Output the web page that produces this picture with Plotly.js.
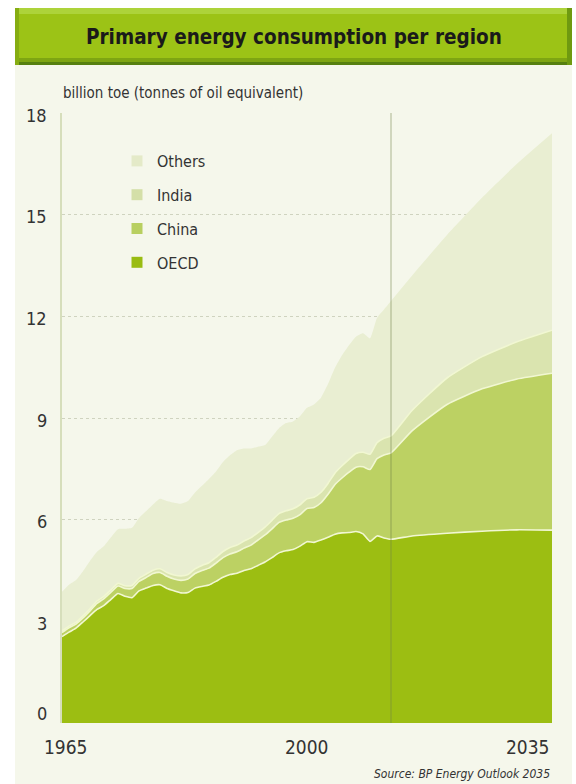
<!DOCTYPE html>
<html><head><meta charset="utf-8">
<script src="https://cdn.plot.ly/plotly-3.0.1.min.js"></script>
<style>html,body{margin:0;padding:0;background:#fff;} #chart{width:576px;height:784px;}</style>
</head><body><div id="chart"></div>
<script>
// ---- data (billion toe) ----
const years = [1965,1966,1967,1968,1969,1970,1971,1972,1973,1974,1975,1976,1977,1978,1979,
  1980,1981,1982,1983,1984,1985,1986,1987,1988,1989,1990,1991,1992,1993,1994,1995,1996,1997,
  1998,1999,2000,2001,2002,2003,2004,2005,2006,2007,2008,2009,2010,2011,2012,
  2015,2020,2025,2030,2035];
const oecd = [2.55,2.68,2.80,2.98,3.17,3.35,3.47,3.65,3.82,3.74,3.70,3.90,3.98,4.06,4.08,
  3.97,3.90,3.84,3.85,3.98,4.03,4.07,4.18,4.30,4.38,4.42,4.50,4.55,4.65,4.75,4.88,5.02,5.08,
  5.12,5.22,5.35,5.33,5.40,5.48,5.57,5.61,5.62,5.65,5.58,5.36,5.52,5.46,5.42,
  5.52,5.60,5.66,5.70,5.69];
const china = [0.12,0.13,0.12,0.12,0.14,0.18,0.20,0.21,0.22,0.23,0.27,0.28,0.31,0.35,0.36,
  0.36,0.35,0.37,0.40,0.43,0.47,0.50,0.54,0.58,0.61,0.63,0.66,0.70,0.75,0.80,0.85,0.90,0.91,
  0.92,0.93,0.98,1.03,1.10,1.27,1.47,1.62,1.78,1.90,1.98,2.12,2.28,2.45,2.55,
  3.10,3.80,4.20,4.45,4.63];
const india = [0.05,0.05,0.05,0.06,0.06,0.07,0.07,0.07,0.08,0.08,0.09,0.09,0.10,0.10,0.11,
  0.11,0.12,0.13,0.13,0.14,0.15,0.16,0.17,0.18,0.19,0.20,0.21,0.22,0.22,0.23,0.25,0.26,0.27,
  0.28,0.29,0.29,0.30,0.31,0.32,0.34,0.36,0.38,0.40,0.43,0.45,0.47,0.49,0.50,
  0.60,0.78,0.95,1.10,1.27];
const others = [1.15,1.22,1.25,1.32,1.41,1.45,1.48,1.55,1.60,1.68,1.70,1.78,1.86,1.94,2.07,
  2.11,2.13,2.13,2.17,2.25,2.35,2.47,2.53,2.64,2.72,2.80,2.73,2.63,2.53,2.42,2.47,2.52,2.59,
  2.58,2.61,2.68,2.74,2.79,2.93,3.10,3.26,3.37,3.45,3.51,3.42,3.68,3.80,3.98,
  3.98,4.22,4.69,5.25,5.81];
const seriesNames = ['OECD','China','India','Others'];
const xTickVals = [1965, 2000, 2035];
const xTickText = ['1965', '2000', '2035'];
const yTickVals = [0, 3, 6, 9, 12, 15, 18];
const historyEnd = 2012;

// ---- styling ----
const NARROW = "'Liberation Sans Narrow', 'DejaVu Sans Condensed', 'Liberation Sans', Arial, sans-serif";
const areaColors = ['#9cbe12', '#bcd163', '#dae4af', '#e9eed2'];
const legendColors = ['#99bc12', '#b8cf60', '#d4dfa8', '#e4eac8'];
const sepColor = '#f1f7d2';
const seriesData = [oecd, china, india, others];

// pixel -> paper helpers (plot area: x 62..552, y 113..723)
const L = 62, R = 24, T = 113, B = 61, W = 576, H = 784;
const pw = W - L - R, ph = H - T - B;
const px = p => (p - L) / pw;
const py = q => (H - B - q) / ph;

const traces = seriesNames.map((name, i) => ({
  type: 'scatter', mode: 'lines', x: years, y: seriesData[i], name: name,
  stackgroup: 'one', fillcolor: areaColors[i], showlegend: false, hoverinfo: 'skip',
  line: { color: i === 3 ? areaColors[3] : sepColor, width: i === 3 ? 0 : 1.6, shape: 'spline', smoothing: 0.5 }
}));
// legend entries (square swatches), listed top-down: Others, India, China, OECD
for (let i = seriesNames.length - 1; i >= 0; i--) {
  traces.push({
    type: 'scatter', mode: 'markers', x: [null], y: [null], name: seriesNames[i],
    legendgroup: seriesNames[i],
    marker: { symbol: 'square', size: 11, color: legendColors[i] }, showlegend: true
  });
}

const annotations = [];
yTickVals.forEach(v => annotations.push({
  xref: 'paper', yref: 'y', x: 0, y: v, xanchor: 'right', yanchor: 'middle',
  xshift: -13, yshift: v === 0 ? 10 : -2, showarrow: false, text: String(v),
  font: { family: NARROW, size: 18, color: '#333' }
}));
xTickVals.forEach((v, i) => annotations.push({
  xref: 'x', yref: 'paper', x: v, y: 0, yanchor: 'top',
  xanchor: i === 0 ? 'center' : (i === xTickVals.length - 1 ? 'right' : 'center'),
  xshift: i === 0 ? 4 : 0, yshift: -11, showarrow: false, text: xTickText[i],
  font: { family: NARROW, size: 19, color: '#333' }
}));
annotations.push({
  xref: 'paper', yref: 'paper', x: px(61), y: py(93), xanchor: 'left', yanchor: 'middle',
  showarrow: false, text: 'billion toe (tonnes of oil equivalent)',
  font: { family: NARROW, size: 15, color: '#333' }
});
annotations.push({
  xref: 'paper', yref: 'paper', x: px(294), y: py(37), xanchor: 'center', yanchor: 'middle',
  showarrow: false, text: '<b>Primary energy consumption per region</b>',
  font: { family: NARROW, size: 20.5, color: '#1a1a1a' }
});
annotations.push({
  xref: 'paper', yref: 'paper', x: px(552), y: py(774), xanchor: 'right', yanchor: 'middle',
  showarrow: false, text: '<i>Source: BP Energy Outlook 2035</i>',
  font: { family: NARROW, size: 12, color: '#333' }
});

const shapes = [
  // cream panel
  { type: 'rect', xref: 'paper', yref: 'paper', x0: px(15), x1: px(572), y0: py(784), y1: py(65),
    fillcolor: '#f5f7eb', line: { width: 0 }, layer: 'below' },
  // banner
  { type: 'rect', xref: 'paper', yref: 'paper', x0: px(15), x1: px(572), y0: py(65), y1: py(8),
    fillcolor: '#9cc316', line: { width: 0 }, layer: 'below' },
  { type: 'rect', xref: 'paper', yref: 'paper', x0: px(15), x1: px(572), y0: py(14), y1: py(8),
    fillcolor: '#add33a', line: { width: 0 }, layer: 'below' },
  { type: 'rect', xref: 'paper', yref: 'paper', x0: px(15), x1: px(572), y0: py(65), y1: py(58),
    fillcolor: '#7ea512', line: { width: 0 }, layer: 'below' },
  { type: 'rect', xref: 'paper', yref: 'paper', x0: px(15), x1: px(572), y0: py(65), y1: py(62),
    fillcolor: '#56800f', line: { width: 0 }, layer: 'below' },
  { type: 'rect', xref: 'paper', yref: 'paper', x0: px(15), x1: px(19), y0: py(65), y1: py(8),
    fillcolor: '#86ad12', line: { width: 0 }, layer: 'below' },
  { type: 'rect', xref: 'paper', yref: 'paper', x0: px(567), x1: px(572), y0: py(65), y1: py(8),
    fillcolor: '#6f9a10', line: { width: 0 }, layer: 'below' },
  // history / projection divider
  { type: 'line', xref: 'x', yref: 'y', x0: historyEnd, x1: historyEnd, y0: 0, y1: 18,
    line: { color: 'rgba(110,130,70,0.55)', width: 1 }, layer: 'above' }
];

const layout = {
  width: W, height: H, margin: { l: L, r: R, t: T, b: B, pad: 0 },
  paper_bgcolor: '#ffffff', plot_bgcolor: 'rgba(0,0,0,0)',
  font: { family: NARROW, color: '#333' },
  showlegend: true,
  legend: { x: px(117), y: py(144), xanchor: 'left', yanchor: 'top', bgcolor: 'rgba(0,0,0,0)',
    traceorder: 'grouped', tracegroupgap: 10, font: { family: NARROW, size: 16, color: '#333' } },
  xaxis: { range: [1965, 2035], showgrid: false, zeroline: false, showline: false,
    showticklabels: false, ticks: '', fixedrange: true },
  yaxis: { range: [0, 18], tickvals: yTickVals, showticklabels: false, ticks: '',
    showgrid: true, gridcolor: '#cfd3bf', griddash: 'dot', gridwidth: 1, zeroline: false,
    showline: true, linecolor: '#d6debb', linewidth: 2, fixedrange: true },
  shapes: shapes, annotations: annotations
};
Plotly.newPlot('chart', traces, layout, { staticPlot: true, displayModeBar: false });
</script></body></html>
